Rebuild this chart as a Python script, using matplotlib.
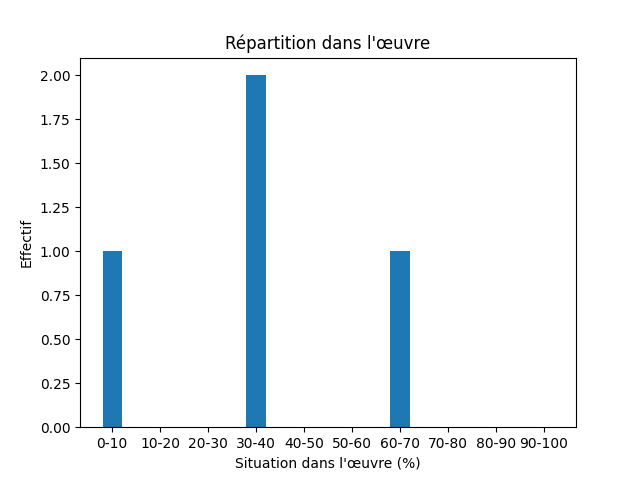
import matplotlib
matplotlib.use("Agg")
import matplotlib.pyplot as plt

categories = ["0-10", "10-20", "20-30", "30-40", "40-50", "50-60", "60-70", "70-80", "80-90", "90-100"]
values = [1, 0, 0, 2, 0, 0, 1, 0, 0, 0]

fig, ax = plt.subplots(figsize=(6.4, 4.8), dpi=100)
ax.bar(range(len(categories)), values, width=0.4, color="#1f77b4")
ax.set_xticks(range(len(categories)))
ax.set_xticklabels(categories)
ax.set_title("Répartition dans l'œuvre")
ax.set_xlabel("Situation dans l'œuvre (%)")
ax.set_ylabel("Effectif")
fig.savefig("out.png")
